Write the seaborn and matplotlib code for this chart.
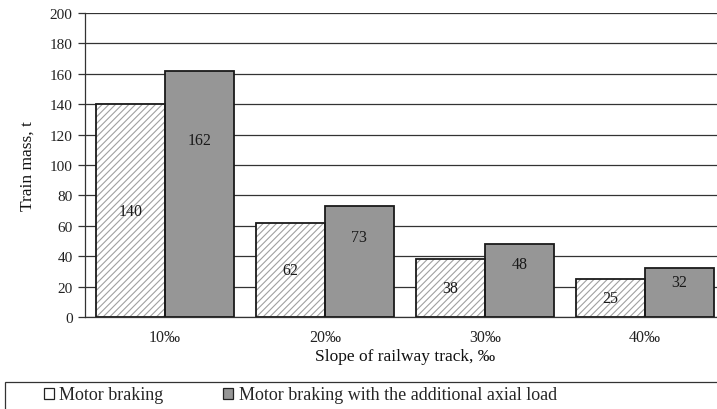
import matplotlib
matplotlib.use("Agg")
import matplotlib.pyplot as plt
from matplotlib.patches import Patch, Rectangle
import seaborn as sns
import pandas as pd

# Data
slopes = ["10‰", "20‰", "30‰", "40‰"]
motor_braking = [140, 62, 38, 25]
motor_braking_axial = [162, 73, 48, 32]
series_names = ["Motor braking", "Motor braking with the additional axial load"]
y_ticks = [0, 20, 40, 60, 80, 100, 120, 140, 160, 180, 200]

df = pd.DataFrame({
    "slope": slopes * 2,
    "mass": motor_braking + motor_braking_axial,
    "series": [series_names[0]] * len(slopes) + [series_names[1]] * len(slopes),
})

sns.set_theme(style="white")
plt.rcParams["font.family"] = ["Liberation Serif", "DejaVu Serif"]
plt.rcParams["hatch.linewidth"] = 0.8

fig = plt.figure(figsize=(7.17, 4.10), dpi=100)
ax = fig.add_axes([85 / 717, 1 - 318 / 410, 640 / 717, 304 / 410])

GRAY = "#969696"
sns.barplot(data=df, x="slope", y="mass", hue="series", order=slopes,
            hue_order=series_names, palette=["white", GRAY], width=0.86,
            gap=0, saturation=1, legend=False, ax=ax, zorder=3)

n = len(slopes)
bars = ax.patches[:2 * n]
for i, p in enumerate(bars):
    if i < n:
        # hatched light bar: hatch in gray, outline drawn on top
        p.set_facecolor("white")
        p.set_edgecolor("#a0a0a0")
        p.set_linewidth(0)
        p.set_hatch("/////")
        ax.add_patch(Rectangle(p.get_xy(), p.get_width(), p.get_height(),
                               fill=False, ec="#1a1a1a", lw=1.3, zorder=4))
    else:
        p.set_facecolor(GRAY)
        p.set_edgecolor("#1a1a1a")
        p.set_linewidth(1.3)

# Value labels
for p, v in zip(bars[:n], motor_braking):
    ax.text(p.get_x() + p.get_width() / 2, v / 2, f"{v}", ha="center",
            va="center", fontsize=11.5, color="#1a1a1a", zorder=5)
for p, v in zip(bars[n:], motor_braking_axial):
    ax.text(p.get_x() + p.get_width() / 2, v * 0.72, f"{v}", ha="center",
            va="center", fontsize=11.5, color="#1a1a1a", zorder=5)

ax.set_xlim(-0.5, n - 0.5)
ax.set_ylim(0, 200)
ax.set_yticks(y_ticks)
ax.set_yticklabels([str(t) for t in y_ticks], fontsize=11, color="#222222")
ax.set_xticks(range(n))
ax.set_xticklabels(slopes, fontsize=11.5, color="#222222")
ax.set_xticks([i + 0.5 for i in range(n - 1)], minor=True)
ax.tick_params(axis="x", which="major", length=0, pad=9)
ax.tick_params(axis="x", which="minor", length=5, width=0.8, color="#555555",
               direction="out")
ax.tick_params(axis="y", which="major", length=5, width=0.9, color="#333333",
               direction="out", pad=4, left=True)

ax.yaxis.grid(True, color="#333333", linewidth=0.9, zorder=0)
ax.set_axisbelow(True)
for side in ["top", "right"]:
    ax.spines[side].set_visible(False)
ax.spines["left"].set_color("#333333")
ax.spines["left"].set_linewidth(0.9)
ax.spines["bottom"].set_color("#333333")
ax.spines["bottom"].set_linewidth(0.9)

ax.set_xlabel("Slope of railway track, ‰", fontsize=12.5, color="#111111",
              labelpad=2)
ax.set_ylabel("Train mass, t", fontsize=12.5, color="#111111", labelpad=10)

# Legend box along the bottom
fig.add_artist(Rectangle((5 / 717, -0.5), 1.2, 0.5 + 1 - 383 / 410,
                         transform=fig.transFigure, fill=False,
                         ec="#333333", lw=0.9))
handles = [Patch(facecolor="white", edgecolor="#222222", lw=0.9),
           Patch(facecolor=GRAY, edgecolor="#222222", lw=0.9)]
fig.legend(handles, series_names, loc="center left",
           bbox_to_anchor=(44 / 717, 1 - 396 / 410), ncol=2,
           frameon=False, fontsize=13, handlelength=0.55,
           handleheight=0.55, handletextpad=0.3, columnspacing=3.3,
           borderaxespad=0, borderpad=0)

fig.savefig("out.png", dpi=100)
